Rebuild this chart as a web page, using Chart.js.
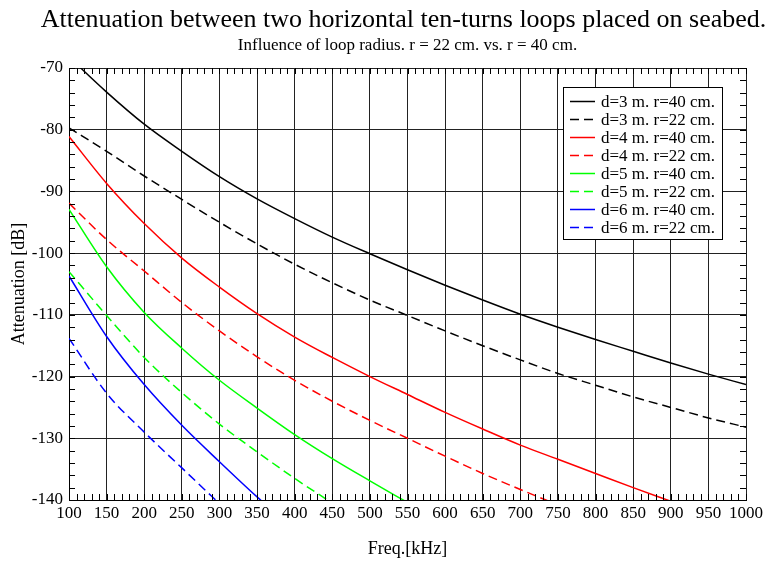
<!DOCTYPE html>
<html>
<head>
<meta charset="utf-8">
<title>Attenuation between two horizontal loops</title>
<script src="https://cdn.jsdelivr.net/npm/chart.js@4.4.0/dist/chart.umd.min.js"></script>
<style>
    html, body { margin: 0; padding: 0; background: #fff; }
    #wrap { width: 768px; height: 563px; }
</style>
</head>
<body>
<div id="wrap"><canvas id="attChart" width="768" height="563"></canvas></div>
<script>
// Frequencies (kHz) the curves are sampled at
const freqs = [100, 150, 200, 250, 300, 350, 400, 450, 500, 550, 600, 650, 700, 750, 800, 850, 900, 950, 1000];

// Attenuation [dB] (curves stop once they leave the plot)
const d3r40 = [-68.2, -73.9, -79.1, -83.5, -87.6, -91.2, -94.4, -97.4, -100.1, -102.7, -105.2, -107.6, -109.9, -112.0, -114.0, -115.9, -117.8, -119.6, -121.3];
const d3r22 = [-79.7, -83.5, -87.5, -91.3, -95.0, -98.5, -101.8, -104.8, -107.6, -110.1, -112.6, -115.0, -117.3, -119.5, -121.4, -123.3, -125.0, -126.7, -128.2];
const d4r40 = [-81.1, -88.7, -95.2, -100.8, -105.5, -109.8, -113.6, -116.9, -120.0, -122.9, -125.8, -128.5, -131.1, -133.4, -135.7, -138.0, -140.2];
const d4r22 = [-91.9, -97.8, -102.9, -108.0, -112.6, -116.8, -120.6, -124.0, -127.1, -130.0, -132.9, -135.7, -138.3, -140.8];
const d5r40 = [-92.9, -102.2, -109.6, -115.4, -120.6, -125.1, -129.4, -133.3, -136.9, -140.4];
const d5r22 = [-103.0, -110.1, -116.9, -122.6, -127.7, -132.2, -136.5, -140.5];
const d6r40 = [-103.7, -113.5, -121.3, -127.9, -133.8, -139.5, -144.8];
const d6r22 = [-113.8, -122.7, -129.0, -134.8, -140.6];

const labels = ['d=3 m. r=40 cm.', 'd=3 m. r=22 cm.', 'd=4 m. r=40 cm.', 'd=4 m. r=22 cm.',
                'd=5 m. r=40 cm.', 'd=5 m. r=22 cm.', 'd=6 m. r=40 cm.', 'd=6 m. r=22 cm.'];
const series = [d3r40, d3r22, d4r40, d4r22, d5r40, d5r22, d6r40, d6r22];
const colors = ['#000000', '#000000', '#ff0000', '#ff0000', '#00ff00', '#00ff00', '#0000ff', '#0000ff'];

const SERIF = '"Liberation Serif", "DejaVu Serif", serif';
const DASH = [9, 5];

const datasets = series.map((vals, i) => ({
    label: labels[i],
    data: vals.map((v, j) => ({ x: freqs[j], y: v })),
    borderColor: colors[i],
    borderWidth: 1.5,
    borderDash: i % 2 === 1 ? DASH : [],
    pointRadius: 0,
    cubicInterpolationMode: 'monotone',
    fill: false
}));

// Titles and axis names, placed where the original has them
const textPlugin = {
    id: 'texts',
    afterDraw(chart) {
        const ctx = chart.ctx;
        const a = chart.chartArea;
        const cx = (a.left + a.right) / 2;
        ctx.save();
        ctx.fillStyle = '#000';
        ctx.textAlign = 'center';
        ctx.textBaseline = 'alphabetic';
        ctx.font = '26px ' + SERIF;
        ctx.fillText('Attenuation between two horizontal ten-turns loops placed on seabed.', cx - 4, 27);
        ctx.font = '17px ' + SERIF;
        ctx.fillText('Influence of loop radius. r = 22 cm. vs. r = 40 cm.', cx, 50);
        ctx.font = '18px ' + SERIF;
        ctx.textBaseline = 'middle';
        ctx.fillText('Freq.[kHz]', cx, 549);
        ctx.translate(19, (a.top + a.bottom) / 2);
        ctx.rotate(-Math.PI / 2);
        ctx.fillText('Attenuation [dB]', 0, 0);
        ctx.restore();
    }
};

// Inward minor ticks on all four sides
const minorTicks = {
    id: 'minorTicks',
    afterDatasetsDraw(chart) {
        const ctx = chart.ctx;
        const a = chart.chartArea;
        const xs = chart.scales.x;
        const ys = chart.scales.y;
        const len = 6;
        ctx.save();
        ctx.strokeStyle = '#000';
        ctx.lineWidth = 1;
        ctx.beginPath();
        for (let f = 100; f <= 1000; f += 10) {
            const px = Math.round(xs.getPixelForValue(f)) + 0.5;
            ctx.moveTo(px, a.bottom);
            ctx.lineTo(px, a.bottom - len);
            ctx.moveTo(px, a.top);
            ctx.lineTo(px, a.top + len);
        }
        for (let v = -140; v <= -70; v += 2) {
            const py = Math.round(ys.getPixelForValue(v)) + 0.5;
            ctx.moveTo(a.left, py);
            ctx.lineTo(a.left + len, py);
            ctx.moveTo(a.right, py);
            ctx.lineTo(a.right - len, py);
        }
        ctx.stroke();
        ctx.restore();
    }
};

// Boxed legend in the upper right of the plot
const boxLegend = {
    id: 'boxLegend',
    afterDraw(chart) {
        const ctx = chart.ctx;
        const bx = 563, by = 87, bw = 159, bh = 152;
        const rowH = 18;
        ctx.save();
        ctx.fillStyle = '#fff';
        ctx.fillRect(bx, by, bw, bh);
        ctx.strokeStyle = '#000';
        ctx.lineWidth = 1;
        ctx.strokeRect(bx + 0.5, by + 0.5, bw, bh);
        ctx.font = '17px ' + SERIF;
        ctx.textAlign = 'left';
        ctx.textBaseline = 'middle';
        chart.data.datasets.forEach((ds, i) => {
            const y = by + 14.5 + i * rowH;
            ctx.strokeStyle = ds.borderColor;
            ctx.lineWidth = 1.5;
            ctx.setLineDash(ds.borderDash);
            ctx.beginPath();
            ctx.moveTo(570, y);
            ctx.lineTo(595, y);
            ctx.stroke();
            ctx.setLineDash([]);
            ctx.fillStyle = '#000';
            ctx.fillText(ds.label, 601, y + 1);
        });
        ctx.restore();
    }
};

const ctxAtt = document.getElementById('attChart').getContext('2d');
const attChart = new Chart(ctxAtt, {
    type: 'line',
    data: { datasets: datasets },
    options: {
        responsive: false,
        animation: false,
        layout: { padding: { top: 68, right: 22, left: 0, bottom: 0 } },
        plugins: {
            legend: { display: false },
            title: { display: false },
            tooltip: { enabled: false }
        },
        scales: {
            x: {
                type: 'linear',
                min: 100,
                max: 1000,
                afterFit: (s) => { s.height = 63; },
                ticks: {
                    stepSize: 50,
                    autoSkip: false,
                    maxRotation: 0,
                    padding: 3,
                    color: '#000',
                    font: { family: SERIF, size: 17 },
                    callback: (v) => String(v)
                },
                grid: { color: '#222', lineWidth: 1, drawTicks: false },
                border: { display: true, color: '#000', width: 1 }
            },
            y: {
                min: -140,
                max: -70,
                afterFit: (s) => { s.width = 69; },
                ticks: {
                    stepSize: 10,
                    padding: 6,
                    color: '#000',
                    font: { family: SERIF, size: 17 },
                    callback: (v) => String(v)
                },
                grid: { color: '#222', lineWidth: 1, drawTicks: false },
                border: { display: true, color: '#000', width: 1 }
            }
        }
    },
    plugins: [minorTicks, textPlugin, boxLegend]
});
</script>
</body>
</html>
